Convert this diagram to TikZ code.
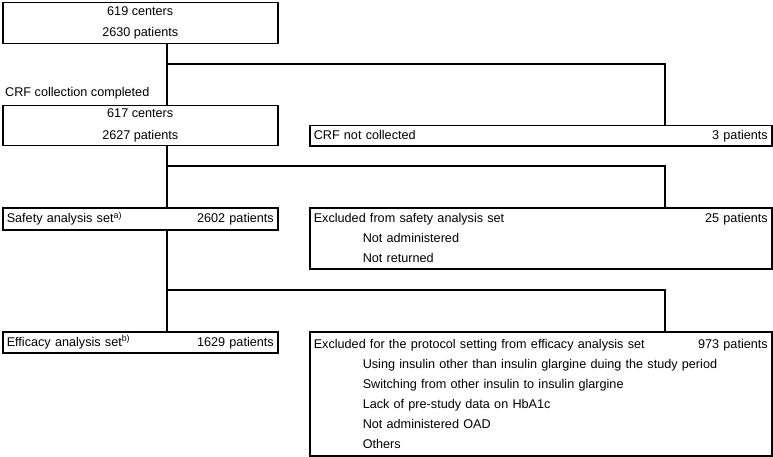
\documentclass[tikz,border=0pt]{standalone}
\usepackage{fontspec}
\setmainfont{Liberation Sans}
\usetikzlibrary{positioning}

\newcommand{\indentitem}{\hspace*{49pt}}

\begin{document}
\begin{tikzpicture}[x=1pt, y=-1pt,
    box/.style={draw, line width=1.5pt, anchor=north west, inner xsep=4pt, inner ysep=0pt,
        font=\fontsize{12.65}{20}\selectfont},
    link/.style={line width=1.2pt}]
    \useasboundingbox (0,0) rectangle (773,457);

    % trunk and side branch positions
    \coordinate (trunk) at (167,0);
    \coordinate (side) at (665,0);
    \coordinate (split1) at (167,64);
    \coordinate (split2) at (167,166);
    \coordinate (split3) at (167,290);

    % main column
    \node[box, minimum width=275pt, minimum height=41pt, align=center,
        font=\fontsize{12.65}{21}\selectfont] (all) at (2,2) {619 centers\\2630 patients};
    \node[anchor=west, inner sep=0pt, font=\fontsize{12.65}{20}\selectfont] (crflabel) at (5,93) {CRF collection completed};
    \node[box, minimum width=275pt, minimum height=40pt, align=center,
        font=\fontsize{12.65}{22}\selectfont] (crf) at (2,105) {617 centers\\2627 patients};
    \node[box, text width=267pt, minimum height=22pt] (safe) at (2,207)
        {Safety analysis set\textsuperscript{a)}\hfill 2602 patients};
    \node[box, text width=267pt, minimum height=21pt] (eff) at (2,331)
        {Efficacy analysis set\textsuperscript{b)}\hfill 1629 patients};

    % excluded column
    \node[box, text width=454pt, minimum height=20.5pt] (nocrf) at (309,125)
        {CRF not collected\hfill 3 patients};
    \node[box, text width=454pt, minimum height=61pt, align=left] (exsafe) at (309,207)
        {Excluded from safety analysis set\hfill 25 patients\\
         \indentitem Not administered\\
         \indentitem Not returned};
    \node[box, text width=454pt, minimum height=124pt, align=left] (exeff) at (309,331)
        {Excluded for the protocol setting from efficacy analysis set\hfill 973 patients\\
         \indentitem Using insulin other than insulin glargine duing the study period\\
         \indentitem Switching from other insulin to insulin glargine\\
         \indentitem Lack of pre-study data on HbA1c\\
         \indentitem Not administered OAD\\
         \indentitem Others};

    % connectors
    \draw[link] (all.south -| trunk) -- (crf.north -| trunk);
    \draw[link] (split1) -| (nocrf.north -| side);
    \draw[link] (crf.south -| trunk) -- (safe.north -| trunk);
    \draw[link] (split2) -| (exsafe.north -| side);
    \draw[link] (safe.south -| trunk) -- (eff.north -| trunk);
    \draw[link] (split3) -| (exeff.north -| side);
\end{tikzpicture}
\end{document}
